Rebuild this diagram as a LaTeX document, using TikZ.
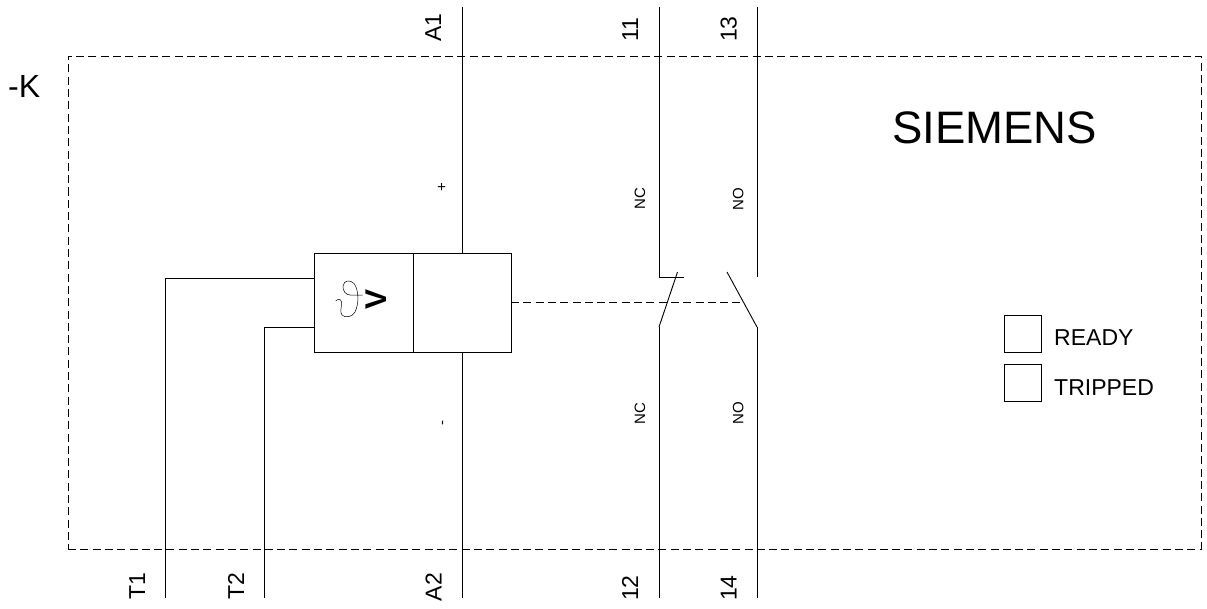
\documentclass[tikz,border=0pt]{standalone}
\usepackage{fontspec}
\setmainfont{Liberation Sans}
\tikzset{
  wire/.style={draw=black,line width=0.9pt},
  dashline/.style={draw=black,line width=0.8pt,dash pattern=on 8pt off 4.3pt},
  unit/.style={draw=black,line width=0.9pt,minimum height=99pt,inner sep=0pt,outer sep=0pt},
  lamp/.style={draw=black,line width=0.7pt,minimum width=37pt,minimum height=37pt,inner sep=0pt,outer sep=0pt},
  pin/.style={rotate=90,anchor=base west,inner sep=0pt,font=\fontsize{23}{23}\selectfont},
  tiny/.style={rotate=90,anchor=base west,inner sep=0pt,font=\fontsize{15}{15}\selectfont},
  lbl/.style={anchor=west,inner sep=0pt,font=\fontsize{23}{23}\selectfont}
}
\begin{document}
\begin{tikzpicture}[x=1pt,y=-1pt]
\useasboundingbox (0,0) rectangle (1207,608);
% enclosure
\node[dashline,draw,minimum width=1133pt,minimum height=493pt,inner sep=0pt,outer sep=0pt] (encl) at (634.5,302.5) {};
\node[anchor=west,inner sep=0pt,font=\fontsize{32}{32}\selectfont] (k) at (8,86) {-K};
\node[anchor=west,inner sep=0pt,font=\fontsize{45.5}{46}\selectfont] (siemens) at (892,128) {SIEMENS};
% relay
\node[unit,minimum width=99pt] (sense) at (363.5,302.5) {};
\node[unit,minimum width=98pt] (coil) at (462,302.5) {};
\coordinate (A1t) at (462,7);
\coordinate (A2b) at (462,598);
\draw[wire] (A1t) -- (coil.north);
\draw[wire] (coil.south) -- (A2b);
% thermal symbol
\draw[black,line width=0.5pt] (335.7,301) .. controls (338,298.5) and (341,299) .. (341.5,302) .. controls (342,306) and (339.5,312) .. (342,315) .. controls (345,318) and (352,317.5) .. (355,312) .. controls (359,304) and (359,290) .. (354,283.5) .. controls (350,279.5) and (344,280) .. (343,286) .. controls (342.5,291) and (346,295) .. (350,295) -- (362.5,295);
\node[rotate=90,inner sep=0pt,font=\fontsize{30}{30}\selectfont\bfseries] (vv) at (376,299) {V};
% sensor leads
\coordinate (T1b) at (165,598);
\coordinate (T2b) at (264,598);
\coordinate (s1) at (sense.west |- 0,278);
\coordinate (s2) at (sense.west |- 0,327);
\draw[wire] (s1) -| (T1b);
\draw[wire] (s2) -| (T2b);
% contacts
\coordinate (c11) at (659,7);
\coordinate (c11a) at (659,277);
\coordinate (c11b) at (684,277);
\coordinate (c12) at (659,598);
\coordinate (c12a) at (659,327);
\coordinate (c12b) at (677.5,272);
\coordinate (c13) at (757,7);
\coordinate (c13a) at (757,277);
\coordinate (c14) at (757,598);
\coordinate (c14a) at (757,327);
\coordinate (c14b) at (727,272);
\draw[wire] (c11) -- (c11a) -- (c11b);
\draw[wire] (c12) -- (c12a);
\draw[wire] (c12a) -- (c12b);
\draw[wire] (c13) -- (c13a);
\draw[wire] (c14) -- (c14a);
\draw[wire] (c14a) -- (c14b);
\coordinate (link) at (743,302.5);
\draw[dashline] (coil.east) -- (link);
% pin labels
\node[pin] (la1) at (441,42) {A1};
\node[pin] (l11) at (638,42) {11};
\node[pin] (l13) at (736.5,42) {13};
\node[pin] (lt1) at (145,600) {T1};
\node[pin] (lt2) at (244,600) {T2};
\node[pin] (la2) at (441.7,601.5) {A2};
\node[pin] (l12) at (638,601) {12};
\node[pin] (l14) at (736.5,601) {14};
\node[tiny] (nc1) at (645,209.5) {NC};
\node[tiny] (no1) at (743.3,210.5) {NO};
\node[tiny] (nc2) at (645,425) {NC};
\node[tiny] (no2) at (743.3,425) {NO};
\node[tiny] (plus) at (446.7,191.4) {+};
\node[tiny] (minus) at (446.7,425.5) {-};
% lamps
\node[lamp] (ready) at (1022.5,333.5) {};
\node[lamp] (tripped) at (1022.5,382.5) {};
\node[lbl] (lready) at (1054,338) {READY};
\node[lbl] (ltripped) at (1054,388) {TRIPPED};
\end{tikzpicture}
\end{document}
